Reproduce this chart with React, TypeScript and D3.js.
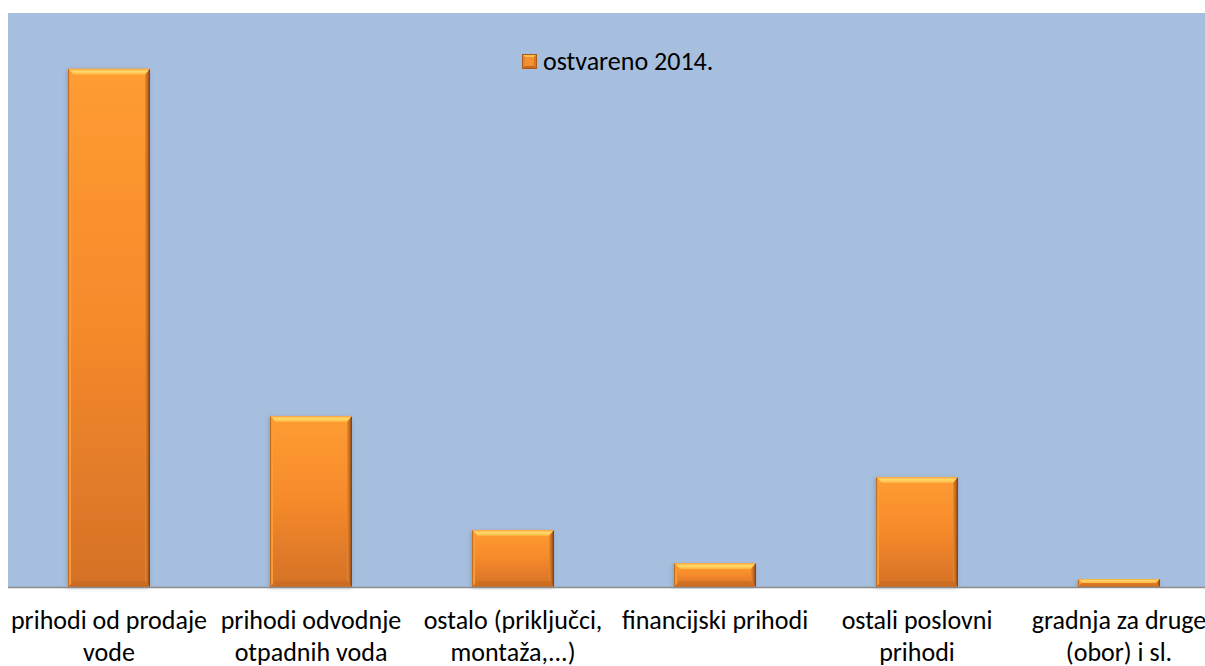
import React from "react";
import * as d3 from "d3";

const categories = [
  "prihodi od prodaje vode",
  "prihodi odvodnje otpadnih voda",
  "ostalo (priključci, montaža,...)",
  "financijski prihodi",
  "ostali poslovni prihodi",
  "gradnja za druge (obor) i sl.",
];
const tickLines: string[][] = [
  ["prihodi od prodaje", "vode"],
  ["prihodi odvodnje", "otpadnih voda"],
  ["ostalo (priključci,", "montaža,...)"],
  ["financijski prihodi"],
  ["ostali poslovni", "prihodi"],
  ["gradnja za druge", "(obor) i sl."],
];
const values2014 = [31.6, 10.43, 3.48, 1.46, 6.71, 0.49];
const seriesName = "ostvareno 2014.";

const W = 1205;
const H = 666;
const FONT = "Carlito, Lato, 'Open Sans', sans-serif";

export default function App() {
  const plotLeft = 8;
  const plotTop = 13;
  const baseY = 587;
  const step = 202;
  const x = d3
    .scaleBand<string>()
    .domain(categories)
    .range([plotLeft, plotLeft + step * categories.length])
    .paddingInner(0.594)
    .paddingOuter(0.297);
  const y = d3.scaleLinear().domain([0, 35]).range([baseY, plotTop]);
  const bw = x.bandwidth();

  return (
    <svg
      width={W}
      height={H}
      style={{ position: "absolute", left: 0, top: 0, background: "#fff" }}
    >
      <defs>
        <linearGradient id="barFill" x1="0" y1="0" x2="0" y2="1">
          <stop offset="0" stopColor="#FF9C31" />
          <stop offset="0.5" stopColor="#F58A2C" />
          <stop offset="1" stopColor="#D57127" />
        </linearGradient>
        <linearGradient id="topBevel" x1="0" y1="0" x2="0" y2="1">
          <stop offset="0" stopColor="#F7A440" />
          <stop offset="0.45" stopColor="#FFDA6A" />
          <stop offset="1" stopColor="#FFB23E" />
        </linearGradient>
        <linearGradient id="rightBevel" x1="0" y1="0" x2="1" y2="0">
          <stop offset="0" stopColor="#E98A2E" />
          <stop offset="0.6" stopColor="#B9641E" />
          <stop offset="1" stopColor="#6E3A0E" />
        </linearGradient>
        <linearGradient id="leftBevel" x1="0" y1="0" x2="1" y2="0">
          <stop offset="0" stopColor="#9A5416" />
          <stop offset="0.4" stopColor="#F39232" />
          <stop offset="1" stopColor="#FFA038" />
        </linearGradient>
        <linearGradient id="legFill" x1="0" y1="0" x2="0" y2="1">
          <stop offset="0" stopColor="#F59A35" />
          <stop offset="1" stopColor="#C96A20" />
        </linearGradient>
        <filter id="shadow" x="-20%" y="-5%" width="140%" height="110%">
          <feGaussianBlur in="SourceAlpha" stdDeviation="2" />
          <feOffset dx="-1" dy="1" result="b" />
          <feFlood floodColor="#4A5A70" floodOpacity="0.35" />
          <feComposite in2="b" operator="in" />
          <feMerge>
            <feMergeNode />
            <feMergeNode in="SourceGraphic" />
          </feMerge>
        </filter>
      </defs>

      <rect
        x={plotLeft}
        y={plotTop}
        width={W - plotLeft}
        height={baseY - plotTop}
        fill="#A7BFDE"
      />

      {categories.map((c, i) => {
        const bx = x(c)!;
        const top = y(values2014[i]);
        const h = baseY - top;
        const bev = Math.min(6, h / 2);
        const rb = Math.min(5, h / 2);
        return (
          <g key={c} filter="url(#shadow)">
            <rect x={bx} y={top} width={bw} height={h} fill="url(#barFill)" />
            <polygon
              points={`${bx},${top} ${bx + bw},${top} ${bx + bw - rb},${top + bev} ${bx + bev},${top + bev}`}
              fill="url(#topBevel)"
            />
            <polygon
              points={`${bx + bw},${top} ${bx + bw},${baseY} ${bx + bw - rb},${baseY - bev} ${bx + bw - rb},${top + bev}`}
              fill="url(#rightBevel)"
            />
            <polygon
              points={`${bx},${top} ${bx + 3},${top + Math.min(3, h / 2)} ${bx + 3},${baseY - Math.min(3, h / 2)} ${bx},${baseY}`}
              fill="url(#leftBevel)"
            />
            <polygon
              points={`${bx},${baseY} ${bx + bw},${baseY} ${bx + bw - rb},${baseY - bev} ${bx + bev},${baseY - bev}`}
              fill="#B8601E"
              opacity={0.35}
            />
          </g>
        );
      })}

      <line
        x1={plotLeft}
        x2={W}
        y1={baseY + 0.5}
        y2={baseY + 0.5}
        stroke="#8C8C8C"
        strokeWidth={1.5}
      />

      {categories.map((c, i) => {
        const cx = x(c)! + bw / 2;
        return (
          <text
            key={c}
            x={cx}
            y={629}
            textAnchor="middle"
            fontFamily={FONT}
            fontSize={26}
            fill="#000"
          >
            {tickLines[i].map((ln, j) => (
              <tspan key={j} x={cx} y={629 + j * 32}>
                {ln}
              </tspan>
            ))}
          </text>
        );
      })}

      <g>
        <rect x={522} y={54} width={15} height={15} fill="url(#legFill)" />
        <polygon points="522,54 537,54 529.5,61.5" fill="#FFC24E" />
        <polygon points="522,69 537,69 529.5,61.5" fill="#C8681F" />
        <polygon points="522,54 522,69 529.5,61.5" fill="#E98530" />
        <polygon points="537,54 537,69 529.5,61.5" fill="#DA7628" />
        <rect x={525} y={57} width={9} height={9} fill="#F39131" />
        <rect x={522.5} y={54.5} width={14} height={14} fill="none" stroke="#A95A1A" strokeWidth={1} />
        <text x={543} y={70} fontFamily={FONT} fontSize={26} fill="#000">
          {seriesName}
        </text>
      </g>
    </svg>
  );
}
